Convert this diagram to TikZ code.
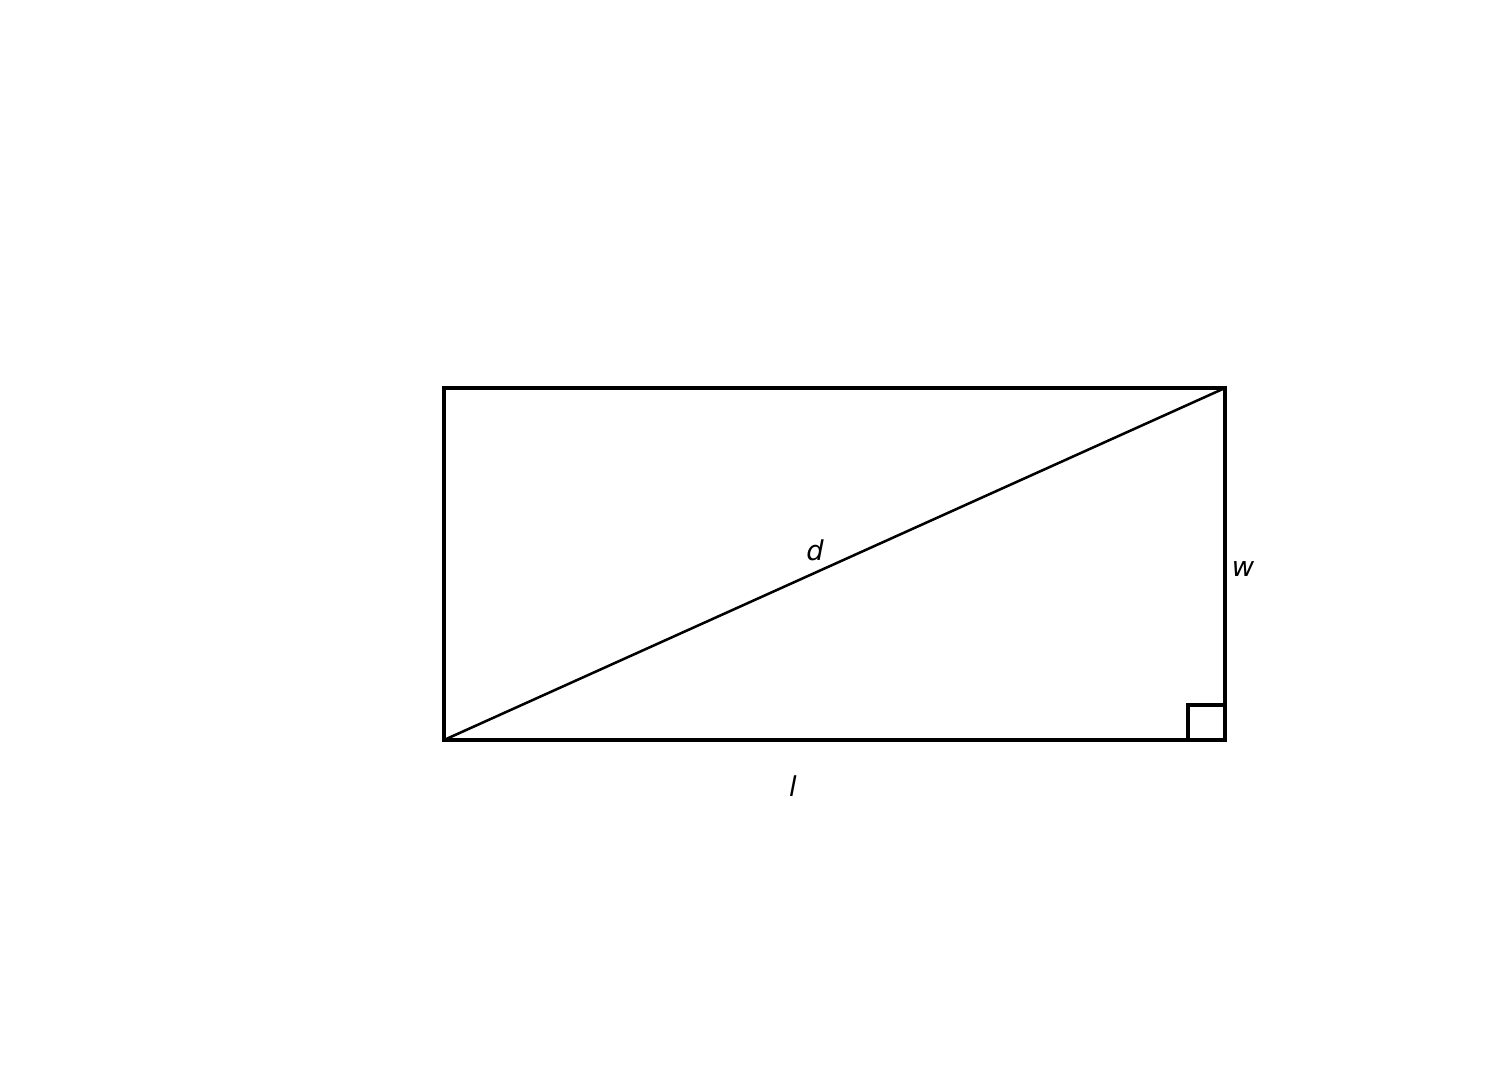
\documentclass[tikz,border=0pt]{standalone}
\usepackage{fontspec}
\setmainfont{DejaVu Sans}
\begin{document}
\begin{tikzpicture}[x=0.75pt,y=-0.75pt,line width=2.4pt,
    lbl/.style={font=\fontsize{20.5}{24}\selectfont\itshape,inner sep=0pt}]
      \useasboundingbox (0,0) rectangle (1509,1085);
      \draw
        (444,740) coordinate (bl)
        (1225,740) coordinate (br)
        (1225,388) coordinate (tr)
        (444,388) coordinate (tl);
      \draw (bl) -- (br) -- (tr) -- (tl) -- cycle;
      \draw[line width=1.9pt] (bl) -- (tr);
      \draw (1188,740) coordinate (sq1) (1188,705) coordinate (sq2) (1225,705) coordinate (sq3);
      \draw (sq1) -- (sq2) -- (sq3);
      \node[lbl] (d) at (815,550) {d};
      \node[lbl] (w) at (1243,569) {w};
      \node[lbl] (l) at (793,786) {l};
    \end{tikzpicture}
\end{document}
